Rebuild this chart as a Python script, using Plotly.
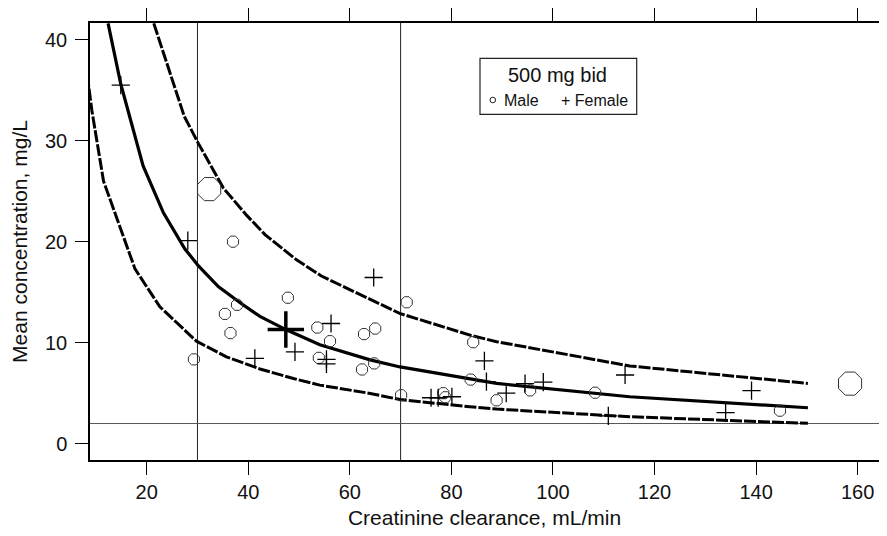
import plotly.graph_objects as go

# ---- data ----
male_x = [37.0, 47.8, 71.2, 37.8, 35.4, 36.5, 29.3, 53.6, 56.1, 53.9, 62.8, 65.0, 64.8,
          62.4, 70.1, 78.4, 78.8, 84.3, 83.8, 88.9, 95.5, 108.3, 144.7]
male_y = [20.0, 14.45, 14.0, 13.75, 12.85, 10.95, 8.35, 11.5, 10.15, 8.5, 10.85, 11.4, 7.95,
          7.35, 4.8, 5.0, 4.6, 10.05, 6.35, 4.3, 5.28, 5.05, 3.27]
male_big_x = [32.3, 158.5]
male_big_y = [25.2, 5.95]

female_x = [14.9, 28.1, 64.7, 56.3, 49.2, 41.3, 55.4, 55.4, 76.0, 77.4, 80.1, 86.5, 86.9,
            90.8, 94.5, 98.1, 114.2, 110.9, 134.0, 139.1]
female_y = [35.5, 20.1, 16.45, 11.9, 9.1, 8.45, 8.35, 7.9, 4.55, 4.55, 4.65, 8.2, 6.15,
            5.0, 5.95, 6.1, 6.8, 2.75, 3.07, 5.25]
female_big_x = [47.4]
female_big_y = [11.3]

center_x = [12.4, 14.9, 19.3, 23.3, 27.5, 30.2, 34.1, 38.4, 42.3, 47.6, 54.1, 64.0, 69.9,
            83.6, 88.9, 115.1, 150.2]
center_y = [41.6, 35.6, 27.5, 22.85, 19.3, 17.6, 15.55, 13.95, 12.6, 11.25, 9.8, 8.3, 7.6,
            6.45, 5.97, 4.65, 3.56]

upper_x = [21.4, 23.3, 27.4, 30.2, 32.5, 35.1, 39.7, 43.3, 49.5, 54.4, 69.8, 84.0, 88.9,
           115.1, 150.2]
upper_y = [41.6, 38.7, 32.4, 29.7, 27.7, 25.3, 22.6, 20.7, 18.2, 16.6, 12.9, 10.7, 10.1,
           7.7, 5.97]

lower_x = [8.3, 9.2, 11.5, 17.7, 22.6, 29.8, 35.7, 42.3, 48.9, 54.1, 64.0, 69.9, 83.6,
           88.9, 115.1, 150.2]
lower_y = [36.5, 33.0, 26.0, 17.3, 13.55, 10.15, 8.6, 7.4, 6.45, 5.8, 4.98, 4.37, 3.66,
           3.43, 2.67, 2.02]

ref_vlines = [30, 70]
ref_hlines = [2]

x_ticks = [20, 40, 60, 80, 100, 120, 140, 160]
y_ticks = [0, 10, 20, 30, 40]
x_range = [8.84, 164.2]
y_range = [-1.61, 41.64]

FONT = "Liberation Sans, Arial, Helvetica, sans-serif"

# page offset: the html body has an 8px margin
OFF = 8
FIG_W, FIG_H = 887 - OFF, 536 - OFF

fig = go.Figure()

# curves
fig.add_trace(go.Scatter(x=lower_x, y=lower_y, mode="lines",
                         line=dict(color="black", width=3, dash="12px,2px"),
                         showlegend=False, hoverinfo="skip"))
fig.add_trace(go.Scatter(x=upper_x, y=upper_y, mode="lines",
                         line=dict(color="black", width=3, dash="12px,2px"),
                         showlegend=False, hoverinfo="skip"))
fig.add_trace(go.Scatter(x=center_x, y=center_y, mode="lines",
                         line=dict(color="black", width=3.2),
                         showlegend=False, hoverinfo="skip"))

# points
fig.add_trace(go.Scatter(x=male_x, y=male_y, mode="markers", name="Male",
                         marker=dict(symbol="octagon-open", size=12,
                                     color="#333333", line=dict(width=1, color="#333333")),
                         showlegend=False, cliponaxis=False))
fig.add_trace(go.Scatter(x=male_big_x, y=male_big_y, mode="markers",
                         marker=dict(symbol="octagon-open", size=25,
                                     color="#333333", line=dict(width=1, color="#333333")),
                         showlegend=False, cliponaxis=False))
fig.add_trace(go.Scatter(x=female_x, y=female_y, mode="markers", name="Female",
                         marker=dict(symbol="cross-thin-open", size=13,
                                     color="black", line=dict(width=1.3, color="black")),
                         showlegend=False, cliponaxis=False))
fig.add_trace(go.Scatter(x=female_big_x, y=female_big_y, mode="markers",
                         marker=dict(symbol="cross-thin-open", size=26,
                                     color="black", line=dict(width=3.5, color="black")),
                         showlegend=False, cliponaxis=False))

# reference lines
for v in ref_vlines:
    fig.add_shape(type="line", xref="x", yref="paper", x0=v, x1=v, y0=0, y1=1,
                  line=dict(color="#222222", width=1), layer="below")
for h in ref_hlines:
    fig.add_shape(type="line", xref="paper", yref="y", x0=0, x1=1, y0=h, y1=h,
                  line=dict(color="#555555", width=1), layer="below")

# plot area in page pixels (reference)
L, R, T, B = 90, 879, 23, 460
W, H = R - L, B - T
def px(x):
    return (x - L) / W
def py(y):
    return (B - y) / H

# legend box (drawn manually)
fig.add_shape(type="rect", xref="paper", yref="paper",
              x0=px(480), x1=px(636.7), y0=py(114.3), y1=py(58.3),
              line=dict(color="#222222", width=1.2), fillcolor="white")
fig.add_annotation(xref="paper", yref="paper", x=px(557.8), y=py(75), text="500 mg bid",
                   showarrow=False, font=dict(size=20, color="#111111", family=FONT),
                   xanchor="center", yanchor="middle")
fig.add_shape(type="circle", xref="paper", yref="paper",
              x0=px(490), x1=px(495.6), y0=py(102.8), y1=py(97.2),
              line=dict(color="#222222", width=1))
fig.add_annotation(xref="paper", yref="paper", x=px(502), y=py(100), text="Male",
                   showarrow=False, font=dict(size=16, color="#111111", family=FONT),
                   xanchor="left", yanchor="middle")
fig.add_annotation(xref="paper", yref="paper", x=px(559), y=py(100), text="+ Female",
                   showarrow=False, font=dict(size=16, color="#111111", family=FONT),
                   xanchor="left", yanchor="middle")

axis_common = dict(showgrid=False, zeroline=False, showline=True, linecolor="black",
                   linewidth=1.5, ticks="outside", ticklen=13, tickwidth=1,
                   tickcolor="black", mirror="ticks",
                   tickfont=dict(size=20, color="#111111", family=FONT))

fig.update_layout(
    width=FIG_W, height=FIG_H,
    margin=dict(l=L - OFF, r=(887 - R), t=T - OFF, b=(536 - B)),
    paper_bgcolor="white", plot_bgcolor="white",
    font=dict(family=FONT, color="#111111"),
    xaxis=dict(range=x_range, tickvals=x_ticks, automargin=False,
               title=dict(text="Creatinine clearance, mL/min",
                          font=dict(size=21, family=FONT), standoff=9),
               **axis_common),
    yaxis=dict(range=y_range, tickvals=y_ticks, automargin=False, ticklabelstandoff=4,
               title=dict(text="Mean concentration, mg/L",
                          font=dict(size=21, family=FONT), standoff=13),
               **axis_common),
)

fig.write_html("out.html")
